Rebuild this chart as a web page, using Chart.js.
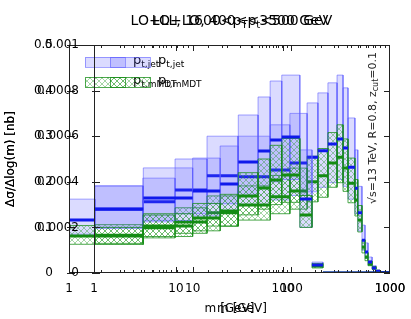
<!DOCTYPE html>
<html>
<head>
<meta charset="utf-8">
<script src="https://cdn.jsdelivr.net/npm/chart.js@4/dist/chart.umd.min.js"></script>
<style>
  body { margin: 0; background: #fff; }
  #wrap { position: relative; width: 411px; height: 319px; }
  #wrap canvas { position: absolute; left: 0; top: 0; }
</style>
</head>
<body>
<div id="wrap">
  <canvas id="sliceA" width="411" height="319"></canvas>
  <canvas id="sliceB" width="411" height="319"></canvas>
</div>
<script>
// slice A (axis at the far left, 0..0.5 normalisation)
const massEdgesA = [1, 1.75, 4.9, 9.8, 19.5, 38, 76, 116, 168, 212, 263, 320, 364, 405, 470, 500, 547, 584, 623, 680, 740, 806, 1000];
const jetA    = [0.116, 0.140, 0.156, 0.182, 0.213, 0.211, 0.226, 0.241, 0.254, 0.268, 0.283, 0.294, 0.274, 0.232, 0.186, 0.132, 0.072, 0.046, 0.024, 0.011, 0.004, 0.001];
const jetLoA  = [0.085, 0.100, 0.112, 0.130, 0.152, 0.150, 0.160, 0.170, 0.178, 0.188, 0.198, 0.205, 0.190, 0.162, 0.130, 0.092, 0.050, 0.032, 0.017, 0.008, 0.003, 0.0005];
const jetHiA  = [0.162, 0.191, 0.208, 0.250, 0.300, 0.300, 0.325, 0.350, 0.373, 0.395, 0.417, 0.434, 0.406, 0.340, 0.270, 0.190, 0.105, 0.066, 0.035, 0.016, 0.006, 0.002];
const mmdtA   = [0.081, 0.083, 0.099, 0.112, 0.132, 0.149, 0.167, 0.180, 0.200, 0.213, 0.241, 0.254, 0.230, 0.197, 0.160, 0.116, 0.057, 0.035, 0.020, 0.011, 0.004, 0.001];
const mmdtLoA = [0.063, 0.065, 0.077, 0.087, 0.103, 0.116, 0.130, 0.140, 0.156, 0.166, 0.188, 0.198, 0.179, 0.154, 0.125, 0.090, 0.044, 0.027, 0.016, 0.0086, 0.003, 0.0008];
const mmdtHiA = [0.104, 0.106, 0.127, 0.143, 0.169, 0.191, 0.214, 0.230, 0.256, 0.273, 0.308, 0.325, 0.294, 0.252, 0.205, 0.148, 0.073, 0.045, 0.026, 0.014, 0.005, 0.0013];

// slice B (axis further right, nb)
const massEdgesB = [1, 3.16, 10, 19, 29, 46, 61, 80, 122, 162, 209, 311, 496, 1000];
const jetB    = [0.000281, 0.000329, 0.000360, 0.000390, 0.000487, 0.000535, 0.000583, 0.000596, 0.000325, 0.000035, 0, 0, 0];
const jetLoB  = [0.000195, 0.000230, 0.000250, 0.000270, 0.000340, 0.000370, 0.000400, 0.000410, 0.000200, 0.000028, 0, 0, 0];
const jetHiB  = [0.000382, 0.000461, 0.000504, 0.000557, 0.000693, 0.000772, 0.000842, 0.000868, 0.000540, 0.000048, 0, 0, 0];
const mmdtB   = [0.000162, 0.000206, 0.000241, 0.000272, 0.000338, 0.000373, 0.000408, 0.000430, 0.000254, 0.000031, 0, 0, 0];
const mmdtLoB = [0.000125, 0.000160, 0.000185, 0.000205, 0.000255, 0.000280, 0.000300, 0.000310, 0.000200, 0.000022, 0, 0, 0];
const mmdtHiB = [0.000200, 0.000260, 0.000305, 0.000345, 0.000440, 0.000500, 0.000560, 0.000590, 0.000340, 0.000042, 0, 0, 0];

const xTicks = [1, 10, 100, 1000];
const yTicksA = [0, 0.1, 0.2, 0.3, 0.4, 0.5];
const yTicksB = [0, 0.0002, 0.0004, 0.0006, 0.0008, 0.001];

const FONT = "'DejaVu Sans'";
const JET_FILL = "rgba(90, 90, 255, 0.22)";
const JET_EDGE = "rgba(90, 90, 255, 0.55)";
const JET_LINE = "rgb(15, 25, 235)";
const MMDT_EDGE = "rgba(20, 140, 20, 0.75)";
const MMDT_LINE = "rgb(20, 140, 20)";

function hatch(ctx) {
  const c = document.createElement("canvas");
  c.width = c.height = 6;
  const g = c.getContext("2d");
  g.strokeStyle = "rgba(30, 150, 30, 0.5)";
  g.lineWidth = 0.8;
  g.beginPath();
  g.moveTo(0, 0); g.lineTo(6, 6);
  g.moveTo(6, 0); g.lineTo(0, 6);
  g.stroke();
  return ctx.createPattern(c, "repeat");
}

// one closed box per bin, filled as a shape
function boxes(edges, lo, hi, fill, edge, order) {
  return lo.map((v, i) => ({
    data: [
      { x: edges[i], y: v }, { x: edges[i], y: hi[i] },
      { x: edges[i + 1], y: hi[i] }, { x: edges[i + 1], y: v },
      { x: edges[i], y: v }
    ],
    fill: "shape",
    backgroundColor: fill,
    borderColor: edge,
    borderWidth: 1,
    order
  }));
}

// flat central value per bin, no vertical joins
function centres(edges, vals, color) {
  const pts = [];
  vals.forEach((v, i) => {
    pts.push({ x: edges[i], y: v }, { x: edges[i + 1], y: v }, { x: edges[i + 1], y: null });
  });
  return { data: pts, borderColor: color, borderWidth: 3, fill: false, spanGaps: false, order: 0 };
}

function rich(ctx, parts, x, y, size, align) {
  const fonts = parts.map((p, i) => (i % 2 ? Math.round(size * 0.72) : size) + "px " + FONT);
  const widths = parts.map((p, i) => { ctx.font = fonts[i]; return ctx.measureText(p).width; });
  const total = widths.reduce((a, b) => a + b, 0);
  let cx = align === "center" ? x - total / 2 : x;
  ctx.textAlign = "left";
  ctx.textBaseline = "middle";
  parts.forEach((p, i) => {
    ctx.font = fonts[i];
    ctx.fillText(p, cx, y + (i % 2 ? size * 0.3 : 0));
    cx += widths[i];
  });
}

const frame = {
  id: "frame",
  afterDraw(chart) {
    const { ctx, chartArea: a, scales: { x, y } } = chart;
    const o = chart.options.plugins.frame;
    ctx.save();
    ctx.strokeStyle = "#222";
    ctx.lineWidth = 1;
    ctx.strokeRect(a.left + 0.5, a.top + 0.5, a.right - a.left - 1, a.bottom - a.top - 1);
    ctx.beginPath();
    for (let d = 0; d < 3; d++) {
      for (let k = 1; k < 10; k++) {
        const px = Math.round(x.getPixelForValue(k * Math.pow(10, d))) + 0.5;
        const len = k === 1 ? 6 : 3;
        ctx.moveTo(px, a.bottom); ctx.lineTo(px, a.bottom - len);
        ctx.moveTo(px, a.top); ctx.lineTo(px, a.top + len);
      }
    }
    y.ticks.forEach(t => {
      const py = Math.round(y.getPixelForValue(t.value)) + 0.5;
      ctx.moveTo(a.left - 2, py); ctx.lineTo(a.left + 6, py);
      ctx.moveTo(a.right, py); ctx.lineTo(a.right - 6, py);
    });
    ctx.stroke();

    // title
    ctx.fillStyle = "#000";
    rich(ctx, o.title, (a.left + a.right) / 2, 21, 14, "center");

    // legend
    const lx = a.left + 16, ly = a.top + 12;
    ctx.fillStyle = JET_FILL;
    ctx.fillRect(lx, ly, 40, 10);
    ctx.strokeStyle = JET_EDGE;
    ctx.strokeRect(lx + 0.5, ly + 0.5, 40, 10);
    ctx.fillStyle = o.hatch;
    ctx.fillRect(lx, ly + 20, 40, 10);
    ctx.strokeStyle = MMDT_EDGE;
    ctx.strokeRect(lx + 0.5, ly + 20.5, 40, 10);
    ctx.fillStyle = "#000";
    rich(ctx, ["p", "t,jet"], lx + 48, ly + 4, 13, "left");
    rich(ctx, ["p", "t,mMDT"], lx + 48, ly + 24, 13, "left");

    if (o.note) {
      ctx.save();
      ctx.translate(a.right - 17, 128);
      ctx.rotate(-Math.PI / 2);
      ctx.fillStyle = "#222";
      rich(ctx, ["\u221As=13 TeV, R=0.8, z", "cut", "=0.1"], 0, 0, 11, "center");
      ctx.restore();
    }
    ctx.restore();
  }
};

function build(id, s) {
  const ctx = document.getElementById(id).getContext("2d");
  const pat = hatch(ctx);
  return new Chart(ctx, {
    type: "line",
    data: {
      datasets: [
        ...boxes(s.edges, s.jetLo, s.jetHi, JET_FILL, JET_EDGE, 2),
        ...boxes(s.edges, s.mmdtLo, s.mmdtHi, pat, MMDT_EDGE, 1),
        centres(s.edges, s.jet, JET_LINE),
        centres(s.edges, s.mmdt, MMDT_LINE)
      ]
    },
    options: {
      responsive: false,
      animation: false,
      events: [],
      layout: { padding: { top: 45, right: 21, left: 0, bottom: 0 } },
      elements: { point: { radius: 0 }, line: { tension: 0 } },
      plugins: {
        legend: { display: false },
        tooltip: { enabled: false },
        frame: { title: s.title, hatch: pat, note: s.note }
      },
      scales: {
        x: {
          type: "logarithmic",
          min: 1, max: 1000,
          afterBuildTicks: sc => { sc.ticks = xTicks.map(v => ({ value: v })); },
          afterFit: sc => { sc.height = 46; },
          grid: { display: false },
          border: { display: false },
          ticks: { callback: v => String(v), color: "#000", padding: 1, maxRotation: 0, autoSkip: false, font: { size: 12, family: FONT } },
          title: { display: true, text: "m [GeV]", color: "#000", padding: { top: 2, bottom: 3 }, font: { size: 12, family: FONT } }
        },
        y: {
          min: 0, max: s.yMax,
          afterBuildTicks: sc => { sc.ticks = s.yTicks.map(v => ({ value: v })); },
          afterFit: sc => { sc.width = s.left; },
          grid: { display: false },
          border: { display: false },
          ticks: { callback: v => String(v), color: "#000", padding: s.pad, font: { size: 12, family: FONT } },
          title: { display: true, text: "\u0394\u03c3/\u0394log(m) [nb]", color: "#000", padding: { top: 4, bottom: 4 }, font: { size: 12, family: FONT } }
        }
      }
    },
    plugins: [frame]
  });
}

build("sliceA", {
  edges: massEdgesA, jet: jetA, jetLo: jetLoA, jetHi: jetHiA, mmdt: mmdtA, mmdtLo: mmdtLoA, mmdtHi: mmdtHiA,
  yMax: 0.5, yTicks: yTicksA, left: 69, pad: 8, note: true,
  title: ["LO+LL, 1600<p", "T", "<3500 GeV"]
});
build("sliceB", {
  edges: massEdgesB, jet: jetB, jetLo: jetLoB, jetHi: jetHiB, mmdt: mmdtB, mmdtLo: mmdtLoB, mmdtHi: mmdtHiB,
  yMax: 0.001, yTicks: yTicksB, left: 94, pad: 7, note: false,
  title: ["LO+LO, 400<p", "t", "<500 GeV"]
});
</script>
</body>
</html>
